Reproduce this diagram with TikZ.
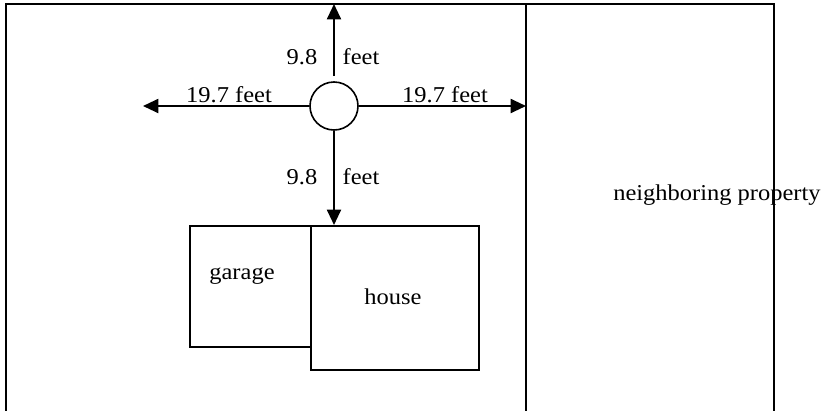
\documentclass[tikz,border=0pt]{standalone}
\usepackage{fontspec}
\setmainfont{Liberation Serif}[FakeStretch=1.08]
\usetikzlibrary{arrows.meta}
\begin{document}
\begin{tikzpicture}[x=0.75pt,y=-0.75pt,
  border/.style={line width=1.5pt},
  dimarrow/.style={line width=1.5pt,-{Triangle[length=11.5pt,width=10.5pt]}},
  lbl/.style={anchor=base,inner sep=0pt,font=\fontsize{17}{20}\selectfont},
  bldg/.style={draw,line width=1.5pt,fill=white,anchor=north west,inner sep=0pt}]
\useasboundingbox (0,0) rectangle (826,411);
% lot lines
\coordinate (tl) at (6,4);
\coordinate (tm) at (526,4);
\coordinate (tr) at (774,4);
\coordinate (bl) at (6,411);
\coordinate (bm) at (526,411);
\coordinate (br) at (774,411);
\draw[border] (bl) -- (tl) -- (tr) -- (br);
\draw[border] (tm) -- (bm);
% buildings
\node[bldg,minimum width=90.75pt,minimum height=90.75pt] (garage) at (189,225) {};
\node[bldg,minimum width=126pt,minimum height=108pt] (house) at (310,225) {};
\node[lbl] (garagetxt) at (242,279) {garage};
\node[lbl] (housetxt) at (393,304) {house};
% centre point
\node[draw,circle,line width=1.2pt,minimum size=36pt,inner sep=0pt,fill=white] (c) at (334,106) {};
\coordinate (upstart) at (334,76);
\coordinate (uptip) at (334,4);
\coordinate (lefttip) at (143,106);
\coordinate (righttip) at (526,106);
\coordinate (downtip) at (334,225);
\draw[dimarrow] (upstart) -- (uptip);
\draw[dimarrow] (c.west) -- (lefttip);
\draw[dimarrow] (c.east) -- (righttip);
\draw[dimarrow] (c.south) -- (downtip);
% labels
\node[lbl] (n1) at (302,64) {9.8};
\node[lbl] (f1) at (361,64) {feet};
\node[lbl] (n2) at (302,184) {9.8};
\node[lbl] (f2) at (361,184) {feet};
\node[lbl] (l1) at (229,102) {19.7 feet};
\node[lbl] (l2) at (445,102) {19.7 feet};
\node[lbl] (nb) at (717,200) {neighboring property};
\end{tikzpicture}
\end{document}
